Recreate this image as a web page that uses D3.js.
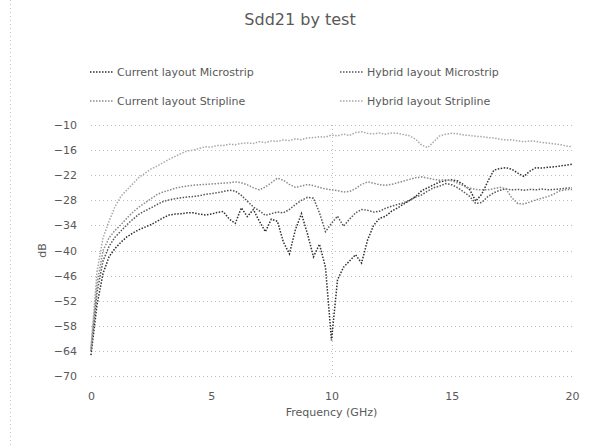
<!DOCTYPE html>
<html>
<head>
<meta charset="utf-8">
<script src="https://cdn.jsdelivr.net/npm/d3@7"></script>
<style>
    body { margin: 0; background: #fff; }
    #chart { width: 600px; height: 445px; }
</style>
</head>
<body>
<div id="chart"></div>
<script>
// frequency points (GHz), 0.25 GHz step
var freqs = d3.range(0, 20.001, 0.25).map(f => +f.toFixed(2));

var currentMicrostrip = [
    -65, -53, -45.5, -41.5, -39.5, -38, -36.7, -35.8, -35, -34.4, -33.8, -33, -32.2, -31.5, -31.3, -31.2,
    -31, -31, -31.3, -31.5, -31.3, -30.9, -30.7, -32.5, -33.5, -29.8, -31.9, -30.2, -33, -35.5, -32.5, -33,
    -38, -40.8, -35, -31.2, -36, -41.5, -38.5, -44, -61.5, -47, -44, -42.5, -41, -43, -37.5, -34,
    -32.3, -31.8, -30.6, -29.8, -28.9, -28, -27.1, -25.7, -25, -24.3, -23.6, -23.3, -23.1, -23.4, -24.3, -25.5,
    -28.2, -26.5, -23.5, -20.8, -20.4, -20.2, -20.6, -21.5, -22.3, -21, -20.2, -20.3, -20.1, -20, -19.8, -19.6,
    -19.4
];

var hybridMicrostrip = [
    -64, -50, -42.5, -39, -36.8, -35.3, -33.8, -32.5, -31.3, -30.5, -29.8, -29, -28.3, -27.9, -27.6, -27.4,
    -27.2, -27.1, -26.9, -26.6, -26.4, -26.2, -25.9, -25.6, -25.8, -26.8, -28.2, -29.6, -30.5, -31.6, -31.2, -30.8,
    -31, -30.2, -29, -28, -27.3, -27.5, -31, -35.5, -33.5, -31.8, -34.2, -32.5, -31, -30.2, -30.4, -30.8,
    -30.6, -29.9, -29.4, -29, -28.6, -28, -27.2, -26.7, -25.8, -25, -24.6, -24, -24.3, -25, -26, -27.1,
    -28.8, -28.5, -27.1, -26.2, -25.6, -25.3, -25.5, -25.4, -25.6, -25.4, -25.5, -25.3, -25.5, -25.4, -25.3, -25.1,
    -25
];

var currentStripline = [
    -63.5, -48, -40, -37, -35.2, -33.8, -32.2, -30.8, -29.6, -28.6, -27.6, -26.6, -26, -25.6, -25.1, -24.8,
    -24.6, -24.4, -24.3, -24.2, -24.1, -24, -23.9, -23.8, -23.6, -23.8, -24.3, -25, -25.5, -24.8, -23.8, -22.7,
    -23.2, -24.2, -24.9, -24.6, -24.2, -24.5, -24.9, -25.3, -25.5, -25.7, -26, -25.9, -25.2, -24.2, -23.6, -23.9,
    -24.3, -24.4, -24.2, -23.8, -23.4, -23, -22.6, -22.4, -22.7, -23, -23.2, -23.1, -23.3, -23.9, -24.6, -25.1,
    -25.4, -25.5, -25.5, -25.2, -24.9, -25.3, -27.4, -28.8, -28.9, -28.4, -27.9, -27.5, -27.1, -26.5, -25.7, -25.5,
    -25.4
];

var hybridStripline = [
    -63, -45, -37, -33, -29.5, -27, -25.5, -24, -22.5, -21.5, -20.5, -19.8, -19, -18.2, -17.5, -16.8,
    -16.2, -16, -15.6, -15.2, -15.3, -14.9, -14.9, -14.6, -14.7, -14.4, -14.3, -14.4, -14, -14.2, -13.8, -13.9,
    -13.6, -13.7, -13.3, -13.5, -13.1, -13, -12.8, -12.9, -12.4, -12.6, -12.2, -12.5, -11.8, -11.6, -12, -12.1,
    -11.9, -12.2, -11.9, -12, -12.3, -12.6, -13.4, -14.8, -15.4, -14, -12.6, -12.2, -12, -12.1, -12.4, -12.5,
    -12.7, -12.8, -13, -13.1, -13.4, -13.6, -13.5, -13.8, -14, -13.8, -13.9, -14.2, -14.3, -14.5, -14.7, -15,
    -15.2
];

var seriesNames = ["Current layout Microstrip", "Hybrid layout Microstrip", "Current layout Stripline", "Hybrid layout Stripline"];
var xTicks = [0, 5, 10, 15, 20];
var yTicks = [-10, -16, -22, -28, -34, -40, -46, -52, -58, -64, -70];

function drawChart() {
    var width = 600;
    var height = 445;
    var margin = ({ top: 125, right: 28, bottom: 69, left: 91 });
    var textColor = "#595959";
    var font = "DejaVu Sans, sans-serif";

    var series = [
        { name: seriesNames[0], values: currentMicrostrip, color: "#2e2e2e" },
        { name: seriesNames[1], values: hybridMicrostrip, color: "#555555" },
        { name: seriesNames[2], values: currentStripline, color: "#8a8a8a" },
        { name: seriesNames[3], values: hybridStripline, color: "#a8a8a8" }
    ];

    var x = d3.scaleLinear()
        .domain([0, 20])
        .range([margin.left, width - margin.right]);

    var y = d3.scaleLinear()
        .domain([-70, -10])
        .range([height - margin.bottom, margin.top]);

    const svg = d3.select("#chart").append("svg")
        .attr("width", width)
        .attr("height", height)
        .attr("viewBox", [0, 0, width, height])
        .attr("font-family", font);

    // chart border (only left edge is visible in the picture)
    svg.append("line")
        .attr("x1", 10.5).attr("x2", 10.5)
        .attr("y1", 0).attr("y2", height)
        .attr("stroke", "#c8c8c8")
        .attr("stroke-dasharray", "1,3");

    // horizontal grid
    svg.append("g")
        .attr("stroke", "#bdbdbd")
        .attr("stroke-dasharray", "1,3")
        .selectAll("line")
        .data(yTicks)
        .join("line")
        .attr("x1", x(0))
        .attr("x2", x(20))
        .attr("y1", d => Math.round(y(d)) + 0.5)
        .attr("y2", d => Math.round(y(d)) + 0.5);

    // vertical grid at 10 GHz
    svg.append("line")
        .attr("x1", Math.round(x(10)) + 0.5)
        .attr("x2", Math.round(x(10)) + 0.5)
        .attr("y1", y(-10))
        .attr("y2", y(-70))
        .attr("stroke", "#bdbdbd")
        .attr("stroke-dasharray", "1,3");

    var xAxis = g => g
        .attr("transform", `translate(0,${y(-70)})`)
        .call(d3.axisBottom(x).tickValues(xTicks).tickSize(0).tickPadding(16))
        .call(g => g.select(".domain").remove())
        .call(g => g.selectAll("text").attr("fill", textColor).attr("font-size", 11).attr("font-family", font));

    var yAxis = g => g
        .attr("transform", `translate(${x(0)},0)`)
        .call(d3.axisLeft(y).tickValues(yTicks).tickSize(0).tickPadding(14))
        .call(g => g.select(".domain").remove())
        .call(g => g.selectAll("text").attr("fill", textColor).attr("font-size", 11).attr("font-family", font));

    svg.append("g").call(xAxis);
    svg.append("g").call(yAxis);

    var line = d3.line()
        .x((d, i) => x(freqs[i]))
        .y(d => y(d));

    svg.append("g")
        .attr("fill", "none")
        .selectAll("path")
        .data(series)
        .join("path")
        .attr("stroke", d => d.color)
        .attr("stroke-width", 1.5)
        .attr("stroke-dasharray", "1.5,1.5")
        .attr("d", d => line(d.values));

    // title
    svg.append("text")
        .attr("x", width / 2)
        .attr("y", 25)
        .attr("text-anchor", "middle")
        .attr("font-size", 16)
        .attr("fill", textColor)
        .text("Sdd21 by test");

    // legend
    var legendPos = [[90, 72], [340, 72], [90, 101], [340, 101]];
    var legend = svg.append("g")
        .selectAll("g")
        .data(series)
        .join("g")
        .attr("transform", (d, i) => `translate(${legendPos[i][0]},${legendPos[i][1]})`);

    legend.append("line")
        .attr("x1", 0).attr("x2", 24)
        .attr("stroke", d => d.color)
        .attr("stroke-width", 1.5)
        .attr("stroke-dasharray", "1.5,1.5");

    legend.append("text")
        .attr("x", 27)
        .attr("dy", "0.35em")
        .attr("font-size", 11)
        .attr("fill", textColor)
        .text(d => d.name);

    // axis titles
    svg.append("text")
        .attr("x", x(10))
        .attr("y", 416)
        .attr("text-anchor", "middle")
        .attr("font-size", 11)
        .attr("fill", textColor)
        .text("Frequency (GHz)");

    svg.append("text")
        .attr("transform", `translate(46,${y(-40)}) rotate(-90)`)
        .attr("text-anchor", "middle")
        .attr("font-size", 11)
        .attr("fill", textColor)
        .text("dB");
}

drawChart();
</script>
</body>
</html>
